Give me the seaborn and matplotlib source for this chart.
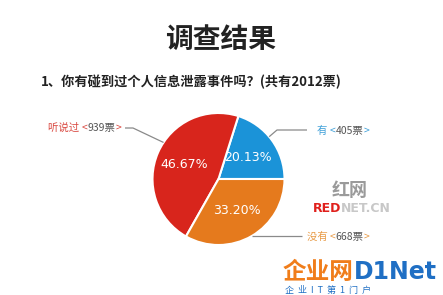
import numpy as np
import matplotlib
matplotlib.use("Agg")
import matplotlib.pyplot as plt
import seaborn as sns

# ---- data ----
categories = ["有", "听说过", "没有"]
votes = [405, 939, 668]
total_votes = 2012
title = "调查结果"
subtitle = "1、你有碰到过个人信息泄露事件吗？(共有2012票)"

sns.set_theme(style="white")
plt.rcParams["font.family"] = ["Noto Sans CJK SC", "DejaVu Sans"]

W, H = 443, 295
fig = plt.figure(figsize=(W / 100, H / 100), dpi=100)
fig.patch.set_facecolor("white")
ax = fig.add_axes([0, 0, 1, 1])

wedge_colors = ["#1b93d8", "#d8251c", "#e57a1d"]
label_colors = ["#3d9fd8", "#d9473f", "#e89a45"]

cx, cy, R = 218.5, H - 179, 66
wedges, texts, autotexts = ax.pie(
    votes, colors=wedge_colors, startangle=0, counterclock=True,
    center=(cx, cy), radius=R, autopct="%.2f%%", pctdistance=0.56,
    wedgeprops=dict(edgecolor="white", linewidth=1.5),
    textprops=dict(color="white", fontsize=9, family="DejaVu Sans"))
ax.set_xlim(0, W)
ax.set_ylim(0, H)
ax.set_aspect("equal")
ax.axis("off")

# leader lines + labels (anchor on wedge edge)
fracs = [0.55, 0.44, 0.5]
line_specs = {
    0: dict(bend=(277, H - 130), end=(307, H - 130), text=(317, H - 131), ha="left"),
    1: dict(bend=(133, H - 128), end=(125, H - 128), text=(48, H - 128), ha="left"),
    2: dict(bend=None, end=(302, None), text=(307, H - 237), ha="left"),
}
for i, w in enumerate(wedges):
    ang = np.deg2rad(w.theta1 + fracs[i] * (w.theta2 - w.theta1))
    ex, ey = cx + R * np.cos(ang), cy + R * np.sin(ang)
    spec = line_specs[i]
    if spec["bend"] is not None:
        xs = [ex, spec["bend"][0], spec["end"][0]]
        ys = [ey, spec["bend"][1], spec["end"][1]]
    else:
        xs = [ex, spec["end"][0]]
        ys = [ey, ey]
    ax.plot(xs, ys, color="#8a8a8a", lw=0.9, solid_capstyle="butt")
    tx, ty = spec["text"]
    t1 = ax.text(tx, ty, categories[i] + " ", color=label_colors[i],
                 fontsize=7.5, ha="left", va="center")
    t2 = ax.annotate("<", xy=(1, 0.5), xycoords=t1, va="center", ha="left",
                     color=label_colors[i], fontsize=7.5)
    t3 = ax.annotate(f"{votes[i]}票", xy=(1, 0.5), xycoords=t2, va="center",
                     ha="left", color="#555555", fontsize=7.5)
    ax.annotate(">", xy=(1, 0.5), xycoords=t3, va="center", ha="left",
                color=label_colors[i], fontsize=7.5)

# titles
ax.text(221, H - 39.5, title, fontsize=20, fontweight="bold", color="#222222",
        ha="center", va="center")
ax.text(41, H - 81.5, subtitle, fontsize=9.5, fontweight="bold", color="#222222",
        ha="left", va="center")

# watermarks
ax.text(350, H - 191, "红网", fontsize=13, color="#9a9a9a", ha="center",
        va="center", fontweight="bold")
r1 = ax.text(313, H - 208.5, "RED", fontsize=9, color="#e0201c",
             fontweight="bold", ha="left", va="center", family="DejaVu Sans")
ax.annotate("NET.CN", xy=(1, 0.5), xycoords=r1, va="center", ha="left",
            fontsize=9, color="#c8c8c8", fontweight="bold", family="DejaVu Sans")
l1 = ax.text(283, H - 272, "企业网", fontsize=17, color="#f07d1a",
             fontweight="bold", ha="left", va="center")
ax.annotate("D1Net", xy=(1, 0.5), xycoords=l1, va="center", ha="left",
            fontsize=17, color="#1f6fc4", fontweight="bold", family="DejaVu Sans")
ax.text(285, H - 290, "企  业  I  T  第  1  门  户", fontsize=6.5,
        color="#1f6fc4", ha="left", va="center")

fig.savefig("out.png", dpi=100)
